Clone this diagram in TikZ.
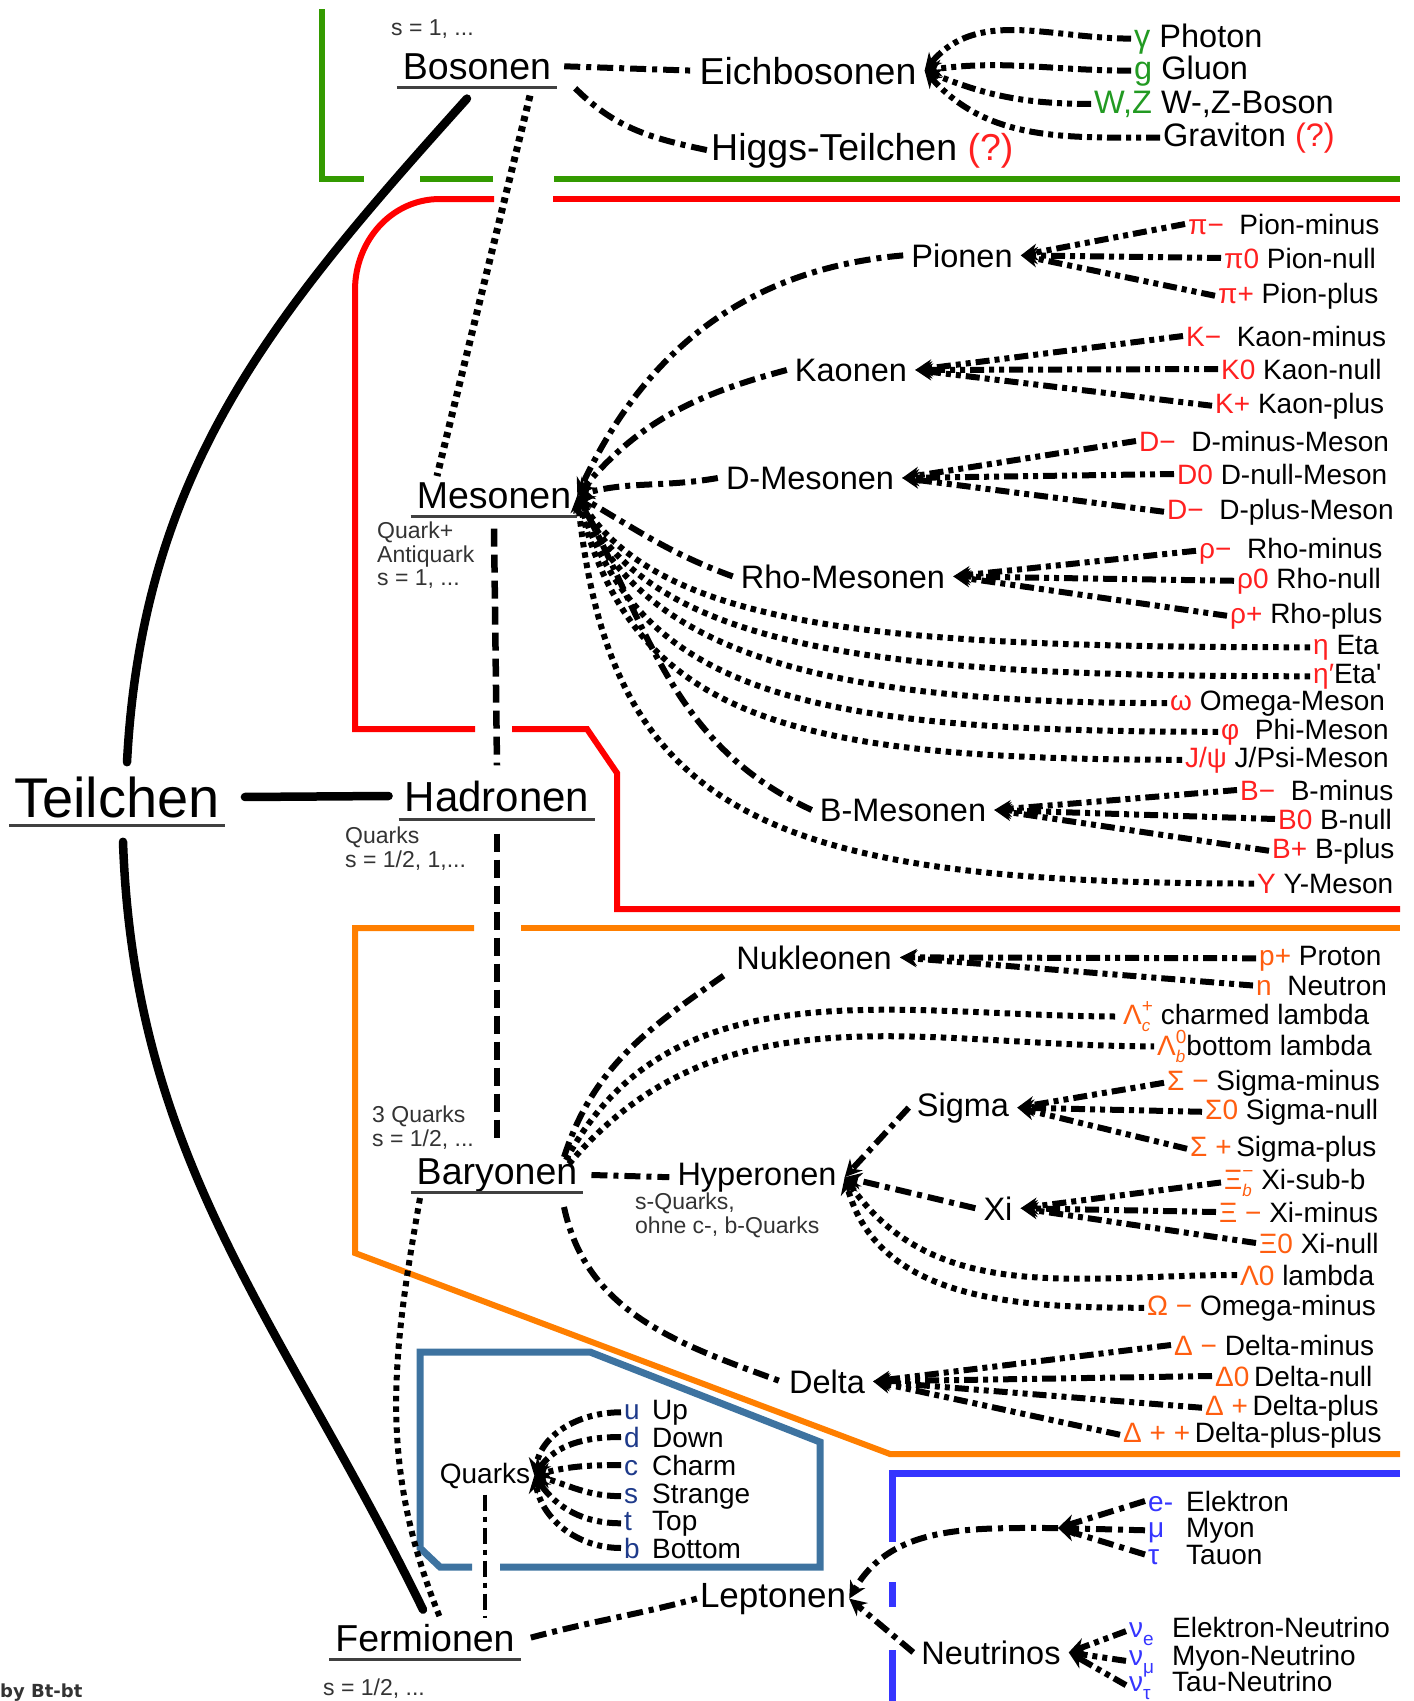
\documentclass[tikz,border=0pt]{standalone}
\usepackage{fontspec}
\setmainfont{Liberation Sans}
\newfontfamily\signfont{DejaVu Sans}
\usetikzlibrary{arrows.meta, positioning}

\definecolor{BosGreen}{HTML}{339A00}
\definecolor{MesRed}{HTML}{FF0000}
\definecolor{BarOrange}{HTML}{FF7F00}
\definecolor{LepBlue}{HTML}{3535FF}
\definecolor{QuarkBox}{HTML}{3E73A0}
\definecolor{SymRed}{HTML}{FF2020}
\definecolor{SymGreen}{HTML}{229A22}
\definecolor{SymOrange}{HTML}{FF5E10}
\definecolor{QuarkBlue}{HTML}{1E3A8A}

\newcommand\redsym[1]{\textcolor{SymRed}{#1}}
\newcommand\grnsym[1]{\textcolor{SymGreen}{#1}}
\newcommand\orsym[1]{\textcolor{SymOrange}{#1}}
\newcommand\qsym[1]{\textcolor{QuarkBlue}{#1}}
\newcommand\lsym[1]{\textcolor{LepBlue}{#1}}
\newcommand\symsubsup[3]{#1\rlap{\raisebox{-0.25em}{\fontsize{17}{17}\selectfont\itshape #2}}\raisebox{0.4em}{\fontsize{19}{19}\selectfont #3}}
\newcommand\symsub[2]{#1\raisebox{-0.3em}{\fontsize{19}{19}\selectfont #2}}

\tikzset{
  mainname/.style={font=\fontsize{37.5}{40}\selectfont, anchor=base, inner xsep=6pt, inner ysep=6pt},
  midname/.style={font=\fontsize{32.5}{35}\selectfont, anchor=base, inner xsep=8pt, inner ysep=3pt},
  leafname/.style={font=\fontsize{28}{30}\selectfont, anchor=base west, inner sep=3pt},
  bosleaf/.style={font=\fontsize{32.5}{35}\selectfont, anchor=base west, inner sep=3pt},
  notetext/.style={font=\fontsize{23}{23.5}\selectfont, text=black!80, align=left, inner sep=0pt},
  uline/.style={line width=3pt, black!75},
  boxline/.style={line width=6pt},
  solidlink/.style={line width=8.5pt, line cap=round},
  dashdot/.style={line width=6pt, dash pattern=on 16pt off 6pt on 5pt off 6pt},
  dashdotdot/.style={line width=6pt, dash pattern=on 14pt off 5pt on 5pt off 5pt on 5pt off 5pt},
  dotlink/.style={line width=6pt, dash pattern=on 5.5pt off 5pt},
  dashlink/.style={line width=6.5pt, dash pattern=on 18pt off 8pt},
  toparent/.style={-{Stealth[length=17pt,width=17pt]}},
}

\begin{document}
\begin{tikzpicture}[x=1pt, y=1pt]
  \useasboundingbox (0,0) rectangle (1414,-1701);

  % frames of the groups
  \draw[boxline, BosGreen] (322,-9) -- (322,-179) -- (364,-179);
  \draw[boxline, BosGreen] (420,-179) -- (493,-179);
  \draw[boxline, BosGreen] (554,-179) -- (1400,-179);
  \draw[boxline, MesRed] (494,-199) -- (440,-199) to[out=180,in=90] (355,-290) -- (355,-729) -- (475,-729);
  \draw[boxline, MesRed] (512,-729) -- (587,-729) -- (617,-773) -- (617,-909) -- (1400,-909);
  \draw[boxline, MesRed] (553,-199) -- (1400,-199);
  \draw[boxline, BarOrange] (474,-928) -- (355,-928) -- (355,-1253) -- (890,-1454) -- (1400,-1454);
  \draw[boxline, BarOrange] (521,-928) -- (1400,-928);
  \draw[boxline, QuarkBox, line width=7pt] (472,-1567) -- (440,-1567) -- (420,-1548) -- (420,-1352)
    -- (590,-1352) -- (820,-1442) -- (820,-1567) -- (500,-1567);
  \draw[boxline, LepBlue, line width=7pt] (1400,-1473) -- (892,-1473) -- (892,-1542);
  \draw[boxline, LepBlue, line width=7pt] (892,-1582) -- (892,-1607);
  \draw[boxline, LepBlue, line width=7pt] (892,-1650) -- (892,-1701);

  % main classes
  \node[mainname, font=\fontsize{56}{60}\selectfont, inner xsep=5pt] (teil) at (117,-817) {Teilchen};
  \node[mainname] (bos) at (477,-79) {Bosonen};
  \node[mainname] (mes) at (494,-508) {Mesonen};
  \node[mainname, font=\fontsize{42}{44}\selectfont] (had) at (497,-811) {Hadronen};
  \node[mainname] (bar) at (497,-1184) {Baryonen};
  \node[mainname] (ferm) at (425,-1651) {Fermionen};
  \foreach \n in {teil,bos,mes,had,bar,ferm}
    \draw[uline] ([yshift=-8pt]\n.base west) -- ([yshift=-8pt]\n.base east);

  % notes
  \node[notetext, anchor=base west] (bosnote) at (391,-35) {s = 1, ...};
  \node[notetext, anchor=north west] (mesnote) at (377,-522) {Quark+\\Antiquark\\s = 1, ...};
  \node[notetext, anchor=north west] (hadnote) at (345,-827) {Quarks\\s = 1/2, 1,...};
  \node[notetext, anchor=north west] (barnote) at (372,-1106) {3 Quarks\\s = 1/2, ...};
  \node[notetext, anchor=north west] (hypnote) at (635,-1193) {s-Quarks,\\ohne c-, b-Quarks};
  \node[notetext, anchor=base west] (fermnote) at (323,-1695) {s = 1/2, ...};
  \node[font=\signfont\fontsize{18}{18}\selectfont\bfseries, text=black!80, anchor=base west, inner sep=0pt] (sign) at (0,-1697) {by Bt-bt};

  % bosons
  \node[mainname, inner xsep=8pt, inner ysep=3pt] (eich) at (808,-84) {Eichbosonen};
  \node[mainname, anchor=base west, inner sep=3pt] (higgs) at (708,-160) {Higgs-Teilchen \textcolor{SymRed}{(?)}};
  \node[bosleaf] (pho) at (1131,-47) {\grnsym{γ} Photon};
  \node[bosleaf] (glu) at (1131,-79) {\grnsym{g} Gluon};
  \node[bosleaf] (wz) at (1091,-113) {\grnsym{W,Z} W-,Z-Boson};
  \node[bosleaf] (grav) at (1160,-146) {Graviton \textcolor{SymRed}{(?)}};

  % mesons
  \node[midname] (pion) at (962,-267) {Pionen};
  \node[midname] (kaon) at (851,-381) {Kaonen};
  \node[midname] (dmes) at (810,-489) {D-Mesonen};
  \node[midname] (rho) at (843,-588) {Rho-Mesonen};
  \node[midname] (bmes) at (903,-821) {B-Mesonen};
  \node[leafname] (pim) at (1185,-234) {\redsym{π−}~~Pion-minus};
  \node[leafname] (pi0) at (1221,-268) {\redsym{π0} Pion-null};
  \node[leafname] (pip) at (1215,-303) {\redsym{π+} Pion-plus};
  \node[leafname] (km) at (1183,-346) {\redsym{K−}~~Kaon-minus};
  \node[leafname] (k0) at (1218,-379) {\redsym{K0} Kaon-null};
  \node[leafname] (kp) at (1212,-413) {\redsym{K+} Kaon-plus};
  \node[leafname] (dm) at (1136,-451) {\redsym{D−}~~D-minus-Meson};
  \node[leafname] (d0) at (1174,-484) {\redsym{D0} D-null-Meson};
  \node[leafname] (dp) at (1164,-519) {\redsym{D−}~~D-plus-Meson};
  \node[leafname] (rm) at (1196,-558) {\redsym{ρ−}~~Rho-minus};
  \node[leafname] (r0) at (1234,-588) {\redsym{ρ0} Rho-null};
  \node[leafname] (rp) at (1227,-623) {\redsym{ρ+} Rho-plus};
  \node[leafname] (eta) at (1310,-654) {\redsym{η} Eta};
  \node[leafname] (etap) at (1310,-683) {\redsym{η′}Eta\textquotesingle};
  \node[leafname] (omm) at (1167,-710) {\redsym{ω} Omega-Meson};
  \node[leafname] (phi) at (1218,-739) {\redsym{φ}~~Phi-Meson};
  \node[leafname] (jpsi) at (1182,-767) {\redsym{J/ψ} J/Psi-Meson};
  \node[leafname] (bm) at (1237,-800) {\redsym{B−}~~B-minus};
  \node[leafname] (b0) at (1275,-829) {\redsym{B0} B-null};
  \node[leafname] (bp) at (1269,-858) {\redsym{B+} B-plus};
  \node[leafname] (ups) at (1254,-893) {\redsym{Υ} Y-Meson};

  % baryons
  \node[midname] (nuk) at (814,-969) {Nukleonen};
  \node[midname] (hyp) at (757,-1185) {Hyperonen};
  \node[midname] (sig) at (963,-1116) {Sigma};
  \node[midname] (xi) at (998,-1220) {Xi};
  \node[midname] (del) at (827,-1393) {Delta};
  \node[leafname] (pro) at (1256,-965) {\orsym{p+} Proton};
  \node[leafname] (neu) at (1253,-995) {\orsym{n}~~Neutron};
  \node[leafname] (lamc) at (1120,-1024) {\orsym{\symsubsup{Λ}{c}{+}} charmed lambda};
  \node[leafname] (lamb) at (1154,-1055) {\orsym{\symsubsup{Λ}{b}{0}}bottom lambda};
  \node[leafname] (sigm) at (1164,-1090) {\orsym{Σ −} Sigma-minus};
  \node[leafname] (sig0) at (1202,-1119) {\orsym{Σ0} Sigma-null};
  \node[leafname] (sigp) at (1187,-1156) {\orsym{Σ +}\,Sigma-plus};
  \node[leafname] (xib) at (1221,-1189) {\orsym{\symsubsup{Ξ}{b}{−}} Xi-sub-b};
  \node[leafname] (xim) at (1216,-1222) {\orsym{Ξ −} Xi-minus};
  \node[leafname] (xi0) at (1256,-1253) {\orsym{Ξ0} Xi-null};
  \node[leafname] (lam0) at (1237,-1285) {\orsym{Λ0} lambda};
  \node[leafname] (omg) at (1144,-1315) {\orsym{Ω −} Omega-minus};
  \node[leafname] (delm) at (1171,-1355) {\orsym{Δ −} Delta-minus};
  \node[leafname] (del0) at (1212,-1386) {\orsym{Δ0}\,Delta-null};
  \node[leafname] (delp) at (1202,-1415) {\orsym{Δ +}\,Delta-plus};
  \node[leafname] (delpp) at (1120,-1442) {\orsym{Δ + +}\,Delta-plus-plus};

  % quarks and leptons
  \node[leafname, anchor=base, inner xsep=4pt] (quarks) at (485,-1483) {Quarks};
  \foreach \n/\s/\nm/\y in {qu/u/Up/1419, qd/d/Down/1447, qc/c/Charm/1475,
      qs/s/Strange/1503, qt/t/Top/1530, qb/b/Bottom/1558}
    \node[leafname] (\n) at (621,-\y) {\makebox[28pt][l]{\qsym{\s}}\nm};
  \node[midname, font=\fontsize{35}{37}\selectfont, inner xsep=3pt] (lep) at (773,-1607) {Leptonen};
  \node[midname] (neut) at (991,-1664) {Neutrinos};
  \coordinate (jct) at (1058,-1528);
  \foreach \n/\s/\nm/\y in {el/e-/Elektron/1511, mu/μ/Myon/1537, tau/τ/Tauon/1564}
    \node[leafname] (\n) at (1145,-\y) {\makebox[38pt][l]{\lsym{\s}}\nm};
  \node[leafname] (nue) at (1126,-1637) {\makebox[43pt][l]{\lsym{\symsub{ν}{e}}}Elektron-Neutrino};
  \node[leafname] (num) at (1126,-1665) {\makebox[43pt][l]{\lsym{\symsub{ν}{μ}}}Myon-Neutrino};
  \node[leafname] (nut) at (1126,-1691) {\makebox[43pt][l]{\lsym{\symsub{ν}{τ}}}Tau-Neutrino};

  % solid links from Teilchen
  \draw[solidlink] ([xshift=10pt,yshift=8pt]teil.north) to[out=87,in=-132] ([xshift=-10pt,yshift=-13pt]bos.south);
  \draw[solidlink] ([xshift=20pt]teil.east) -- ([xshift=-10pt]had.west);
  \draw[solidlink] ([xshift=6pt,yshift=-18pt]teil.south) to[out=-88,in=116] ([xshift=-2pt,yshift=8pt]ferm.north);

  % links between the classes
  \draw[dotlink, line width=7pt] ([xshift=53pt,yshift=-10pt]bos.south) -- ([xshift=-57pt]mes.north);
  \draw[dashlink] ([yshift=-14pt]mes.south) -- ([yshift=9pt]had.north);
  \draw[dashlink] ([yshift=-16pt]had.south) -- ([yshift=11pt]bar.north);
  \draw[dotlink] ([xshift=-77pt]bar.south) to[out=-100,in=112] ([xshift=15pt]ferm.north);
  \draw[dashdot, line width=4.5pt] ([yshift=-3pt]quarks.south) -- ([xshift=60pt]ferm.north);
  \draw[dashdot] ([xshift=10pt]ferm.east) to[out=15,in=195] (lep.west);

  % bosons
  \draw[dashdot] ([xshift=7pt]bos.east) -- (eich.west);
  \draw[dashdot] ([xshift=18pt,yshift=-22pt]bos.east) to[out=-45,in=168] (higgs.west);
  \foreach \n/\a in {pho/50, glu/8, wz/-22, grav/-48}
    \draw[dashdotdot, toparent] (\n.west) to[out=180,in=\a] (eich.east);

  % mesons
  \draw[dashdot, toparent] (pion.west) to[out=185,in=65] (mes.east);
  \draw[dashdot, toparent] (kaon.west) to[out=195,in=50] (mes.east);
  \draw[dashdot, toparent] (dmes.west) to[out=190,in=15] (mes.east);
  \draw[dashdot, toparent] (rho.west) to[out=160,in=-30] (mes.east);
  \draw[dashdot, toparent] (bmes.west) to[out=155,in=-62] (mes.east);
  \foreach \n/\a/\li/\lo in {eta/-58/0.55/1.4, etap/-64/0.6/1.4, omm/-68/0.7/1.4,
      phi/-72/0.8/1.5, jpsi/-76/0.9/1.5, ups/-84/1.05/1.6}
    \draw[dotlink, toparent] (\n.west) to[out=180, in=\a, out looseness=\lo, in looseness=\li] (mes.east);
  \foreach \n in {pim,pi0,pip} \draw[dashdotdot, toparent] (\n.west) -- (pion.east);
  \foreach \n in {km,k0,kp} \draw[dashdotdot, toparent] (\n.west) -- (kaon.east);
  \foreach \n in {dm,d0,dp} \draw[dashdotdot, toparent] (\n.west) -- (dmes.east);
  \foreach \n in {rm,r0,rp} \draw[dashdotdot, toparent] (\n.west) -- (rho.east);
  \foreach \n in {bm,b0,bp} \draw[dashdotdot, toparent] (\n.west) -- (bmes.east);

  % baryons
  \draw[dashdot] ([xshift=67pt,yshift=-5pt]bar.north) to[out=72,in=-145] (nuk.south west);
  \draw[dotlink] ([xshift=69pt,yshift=-8pt]bar.north) to[out=62,in=180] (lamc.west);
  \draw[dotlink] ([xshift=72pt,yshift=-12pt]bar.north) to[out=50,in=180] (lamb.west);
  \draw[dashdot] ([xshift=8pt]bar.east) -- (hyp.west);
  \draw[dashdot] ([xshift=67pt,yshift=-9pt]bar.south) to[out=-78,in=160] (del.west);
  \draw[dashdot, toparent] (sig.west) -- (hyp.east);
  \draw[dashdot, toparent] (xi.west) -- (hyp.east);
  \draw[dotlink, toparent] (lam0.west) to[out=180,in=-55] (hyp.east);
  \draw[dotlink, toparent] (omg.west) to[out=180,in=-75] (hyp.east);
  \foreach \n in {pro,neu} \draw[dashdotdot, toparent] (\n.west) -- (nuk.east);
  \foreach \n in {sigm,sig0,sigp} \draw[dashdotdot, toparent] (\n.west) -- (sig.east);
  \foreach \n in {xib,xim,xi0} \draw[dashdotdot, toparent] (\n.west) -- (xi.east);
  \foreach \n in {delm,del0,delp,delpp} \draw[dashdotdot, toparent] (\n.west) -- (del.east);

  % quarks and leptons
  \foreach \n/\a in {qu/80, qd/55, qc/15, qs/-15, qt/-55, qb/-80}
    \draw[dashdotdot, toparent] (\n.west) to[out=180,in=\a] (quarks.east);
  \draw[dashdot, toparent] (jct) to[out=180,in=60] (lep.east);
  \draw[dashdot, toparent] (neut.west) -- (lep.east);
  \foreach \n in {el,mu,tau} \draw[dashdot, toparent] (\n.west) -- (jct);
  \foreach \n in {nue,num,nut} \draw[dashdotdot, toparent] (\n.west) -- (neut.east);
\end{tikzpicture}
\end{document}
